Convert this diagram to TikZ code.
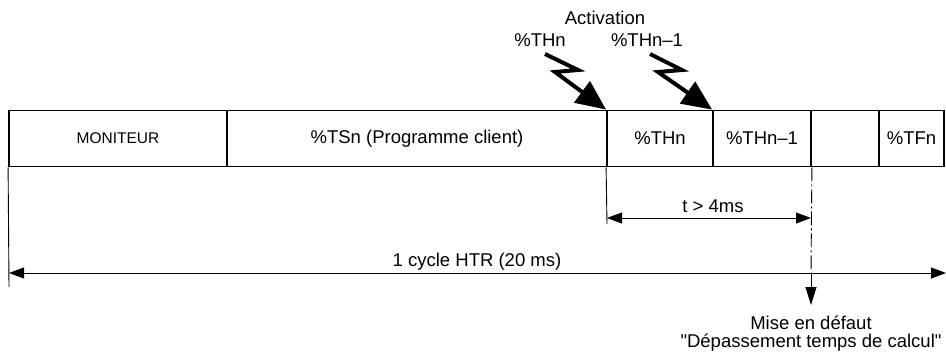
\documentclass[tikz,border=0pt]{standalone}
\usepackage{fontspec}
\setmainfont{Liberation Sans}[Ligatures=TeXOff]
\usetikzlibrary{arrows.meta}
\begin{document}
\begin{tikzpicture}[x=1pt,y=-1pt,
  cell/.style={draw,line width=1.8pt,minimum height=56pt,inner sep=0pt,font=\fontsize{18.5}{20}\selectfont},
  lbl/.style={inner sep=0pt,anchor=base,font=\fontsize{18.5}{20}\selectfont},
  clbl/.style={inner sep=0pt,font=\fontsize{18.5}{20}\selectfont},
  thinline/.style={line width=0.9pt},
  dimarrow/.style={line width=0.9pt,{Triangle[length=15pt,width=11pt]}-{Triangle[length=15pt,width=11pt]}},
  bolt/.style={line width=4pt,line join=miter,-{Triangle[length=30pt,width=26pt]}}]
\useasboundingbox (0,0) rectangle (946,353);
% cells
\node[cell,minimum width=218pt,font=\fontsize{15.5}{17}\selectfont] (mon) at (118,138.5) {MONITEUR};
\node[cell,minimum width=380pt] (tsn) at (417,138.5) {\%TSn (Programme client)};
\node[cell,minimum width=106pt] (thn) at (660,138.5) {\%THn};
\node[cell,minimum width=98pt] (thn1) at (762,138.5) {\%THn–1};
\node[cell,minimum width=68pt] (emp) at (845,138.5) {};
\node[cell,minimum width=65pt] (tfn) at (911.5,138.5) {\%TFn};
% top labels
\node[lbl] (act) at (605,25) {Activation};
\node[lbl] (l1) at (540,47) {\%THn};
\node[lbl] (l2) at (647,47) {\%THn–1};
% bolts
\draw[bolt] (545,54) -- (578,70) -- (555,72) -- (thn.north west);
\draw[bolt] (650,54) -- (682,70) -- (658,72) -- (thn1.north west);
% vertical lines
\coordinate (a1) at (9,287);
\coordinate (a2) at (607,224);
\coordinate (a3) at (811,273);
\coordinate (a4) at (811,305);
\draw[thinline] (mon.south west) -- (a1);
\draw[thinline] (thn.south west) -- (a2);
\draw[thinline,dash pattern=on 14pt off 3pt on 2pt off 3pt] (thn1.south east) -- (a3);
\draw[thinline,-{Triangle[length=18pt,width=11pt]}] (a3) -- (a4);
% dimension arrows
\coordinate (b1) at (607,218);
\coordinate (b2) at (811,218);
\draw[dimarrow] (b1) -- (b2);
\node[lbl] (t4) at (713,212) {t > 4ms};
\coordinate (c1) at (9,273);
\coordinate (c2) at (946,273);
\draw[dimarrow] (c1) -- (c2);
\node[lbl] (cyc) at (477,266) {1 cycle HTR (20 ms)};
% bottom text
\node[clbl] (m1) at (811,323) {Mise en défaut};
\node[clbl] (m2) at (811,343) {"Dépassement temps de calcul"};
\end{tikzpicture}
\end{document}
